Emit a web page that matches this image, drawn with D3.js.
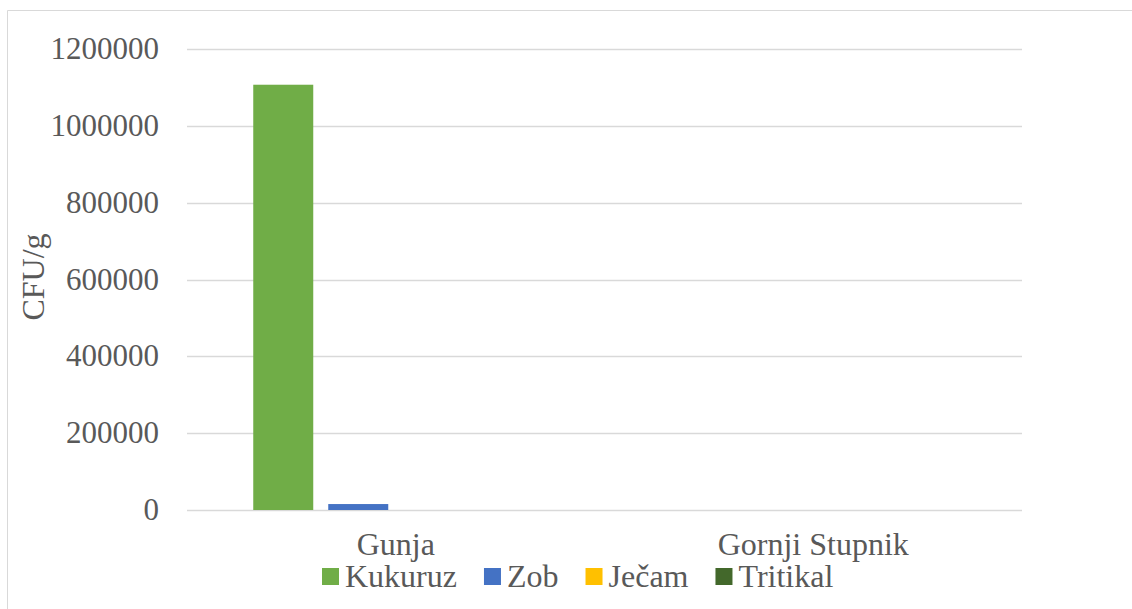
<!DOCTYPE html>
<html><head><meta charset="utf-8">
<script src="https://cdn.jsdelivr.net/npm/d3@7"></script>
<style>body{margin:0;background:#fff}</style>
</head><body>
<svg id="c" width="1132" height="609"></svg>
<script>
const categories = ["Gunja", "Gornji Stupnik"];
const seriesNames = ["Kukuruz", "Zob", "Ječam", "Tritikal"];
const seriesColors = ["#70AD47", "#4472C4", "#FFC000", "#43682B"];
const kukuruz = [1107000, 0];
const zob = [15500, 0];
const jecam = [0, 0];
const tritikal = [0, 0];
const yTicks = [0, 200000, 400000, 600000, 800000, 1000000, 1200000];
const yTitle = "CFU/g";

const FONT = "'Liberation Serif', 'DejaVu Serif', 'Times New Roman', serif";
const values = [kukuruz, zob, jecam, tritikal];
const svg = d3.select("#c");
const L = 187, R = 1022, T = 49, B = 510;

function txt(sel, size) {
  return sel.attr("font-family", FONT).attr("font-size", size).attr("fill", "#595959");
}

// chart border
svg.append("path").attr("d", "M7.5,609 L7.5,10.5 L1132,10.5").attr("fill", "none").attr("stroke", "#d9d9d9").attr("stroke-width", 1);

const y = d3.scaleLinear().domain([0, 1200000]).range([B, T]);
const x0 = d3.scaleBand().domain(categories).range([L, R]);
const step = 75, bw = 60;

// gridlines
svg.append("g").selectAll("line").data(yTicks).join("line")
  .attr("x1", L).attr("x2", R).attr("y1", d => Math.round(y(d)) + 0.5).attr("y2", d => Math.round(y(d)) + 0.5)
  .attr("stroke", "#d9d9d9").attr("stroke-width", 1.5);

// tick labels
txt(svg.append("g").selectAll("text").data(yTicks).join("text")
  .attr("x", 159).attr("y", d => y(d) + 10).attr("text-anchor", "end"), 31).text(d => d);

// bars
seriesNames.forEach((s, i) => {
  svg.append("g").selectAll("rect").data(categories).join("rect")
    .attr("x", c => x0(c) + x0.bandwidth() / 2 - (step * 4 - (step - bw)) / 2 + i * step)
    .attr("width", bw)
    .attr("y", (c, j) => y(values[i][j]))
    .attr("height", (c, j) => B - y(values[i][j]))
    .attr("fill", seriesColors[i]);
});

// category labels
txt(svg.append("g").selectAll("text").data(categories).join("text")
  .attr("x", c => x0(c) + x0.bandwidth() / 2).attr("y", 555).attr("text-anchor", "middle"), 32).text(c => c);

// y title
txt(svg.append("text").attr("transform", "translate(44,277) rotate(-90)").attr("text-anchor", "middle"), 32).text(yTitle);

// legend
let lx = 322;
const lg = svg.append("g");
seriesNames.forEach((s, i) => {
  lg.append("rect").attr("x", lx).attr("y", 568).attr("width", 17).attr("height", 17).attr("fill", seriesColors[i]);
  const t = txt(lg.append("text").attr("x", lx + 23).attr("y", 587), 32).text(s);
  lx += 23 + t.node().getComputedTextLength() + 27;
});
</script>
</body></html>
